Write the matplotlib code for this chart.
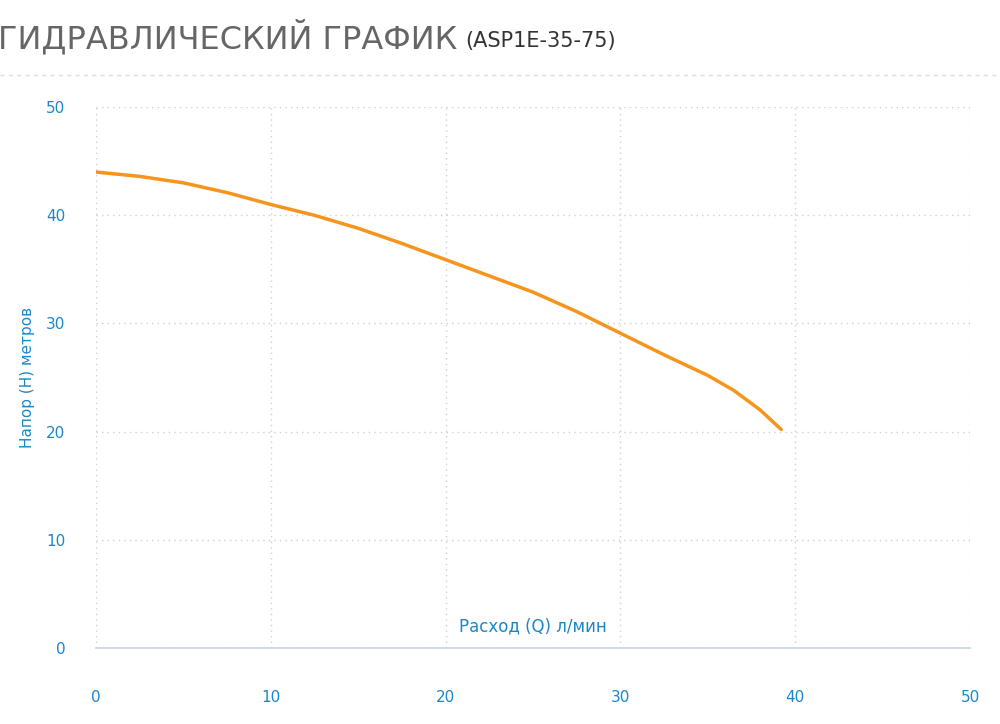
import matplotlib

matplotlib.use("Agg")
import matplotlib.pyplot as plt

flow = [0, 2.5, 5, 7.5, 10, 12.5, 15, 17.5, 20, 22.5, 25, 27.5, 30, 32.5, 35, 36.5, 38, 39.2]
head = [44.0, 43.6, 43.0, 42.1, 41.0, 40.0, 38.8, 37.4, 35.9, 34.4, 32.9, 31.1, 29.1, 27.1, 25.2, 23.8, 22.0, 20.2]
ticks = [0, 10, 20, 30, 40, 50]

blue = "#1b87c9"
fig = plt.figure(figsize=(10, 7.24), dpi=100)
ax = fig.add_axes([0.096, 0.105, 0.874, 0.747])
ax.plot(flow, head, color="#f7941d", lw=2.5, solid_capstyle="round", solid_joinstyle="round")
ax.set_xlim(0, 50)
ax.set_ylim(0, 50)
ax.set_xticks(ticks)
ax.set_yticks(ticks)
ax.grid(True, color="#cfcfcf", linestyle=(0, (1, 3)), lw=1)
for s in ["top", "right", "left"]:
    ax.spines[s].set_visible(False)
ax.spines["bottom"].set_color("#c8d3e0")
ax.spines["bottom"].set_linewidth(1.2)
ax.tick_params(axis="both", length=0, labelcolor=blue, labelsize=11)
ax.tick_params(axis="x", pad=30)
ax.tick_params(axis="y", pad=22)
ax.text(25, 1.2, "Расход (Q) л/мин", color=blue, fontsize=12, ha="center", va="bottom")
ax.set_ylabel("Напор (H) метров", color=blue, fontsize=11, labelpad=8)

fig.text(-0.002, 0.948, "ГИДРАВЛИЧЕСКИЙ ГРАФИК", color="#666666", fontsize=23, va="center")
fig.text(0.465, 0.944, "(ASP1E-35-75)", color="#333333", fontsize=15, va="center")
fig.add_artist(plt.Line2D([0, 1], [0.896, 0.896], color="#dddddd", lw=1, linestyle=(0, (3, 3))))

fig.savefig("out.png", dpi=100)
